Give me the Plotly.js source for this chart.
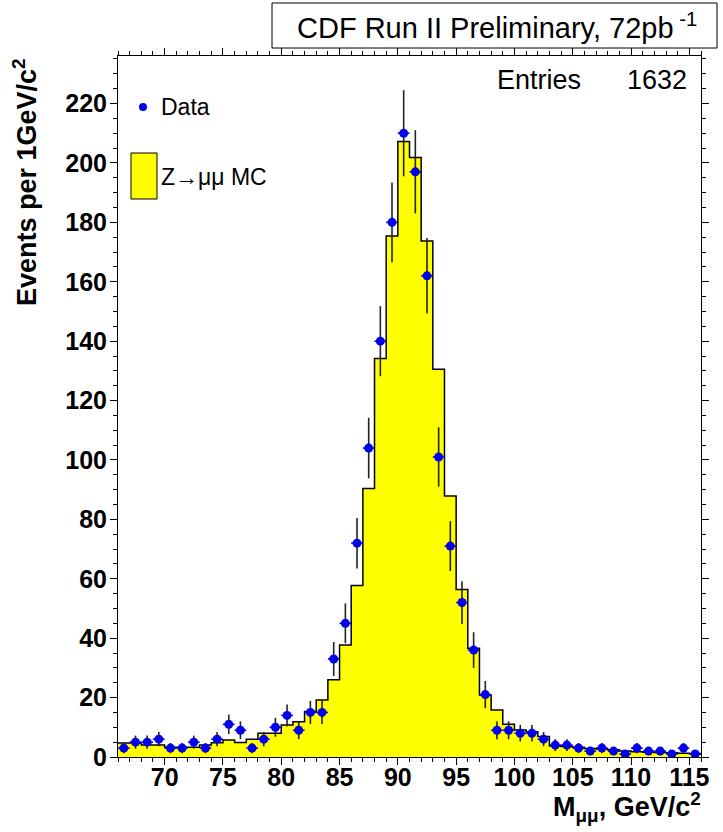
<!DOCTYPE html>
<html>
<head>
<meta charset="utf-8">
<script src="https://cdn.plot.ly/plotly-3.0.1.min.js"></script>
<style>html,body{margin:0;padding:0;background:#fff;}#chart{width:723px;height:832px;}</style>
</head>
<body>
<div id="chart"></div>
<script>
// Bin lower edges (1 GeV bins from 66 to 116)
const binLow = [66,67,68,69,70,71,72,73,74,75,76,77,78,79,80,81,82,83,84,85,86,87,88,89,90,91,92,93,94,95,96,97,98,99,100,101,102,103,104,105,106,107,108,109,110,111,112,113,114,115];
const binUpperLast = 116;

// Z->mumu MC histogram contents
const mcValues = [4.7,4.7,4.0,4.0,3.3,3.3,3.3,4.0,4.8,5.7,4.9,6.0,8.0,8.0,10.8,11.9,15.3,19.2,26.0,37.7,57.7,90.4,134.2,175.4,207.2,201.8,173.7,130.5,87.9,56.4,36.6,20.9,15.8,11.0,9.1,8.5,6.9,3.7,3.5,3.3,2.9,2.7,2.4,2.0,1.8,1.6,1.5,1.4,1.3,1.2];

// Data counts
const dataValues = [3,5,5,6,3,3,5,3,6,11,9,3,6,10,14,9,15,15,33,45,72,104,140,180,210,197,162,101,71,52,36,21,9,9,8,8,6,4,4,3,2,3,2,1,3,2,2,1,3,1];
// Data vertical error bars
const dataErrors = [1.7,2.2,2.2,2.4,1.7,1.7,2.2,1.7,2.4,3.3,3.0,1.7,2.4,3.2,3.7,3.0,3.9,3.9,5.7,6.7,8.5,10.2,11.8,13.4,14.5,14.0,12.7,10.0,8.4,7.2,6.0,4.6,3.0,3.0,2.8,2.8,2.4,2.0,2.0,1.7,1.4,1.7,1.4,1.0,1.7,1.4,1.4,1.0,1.7,1.0];

const xTickVals = [70,75,80,85,90,95,100,105,110,115];
const xTickText = ['70','75','80','85','90','95','100','105','110','115'];
const yTickVals = [0,20,40,60,80,100,120,140,160,180,200,220];
const yTickText = ['0','20','40','60','80','100','120','140','160','180','200','220'];

const titleText = 'CDF Run II Preliminary, 72pb<sup> -1</sup>';
const entriesLabel = 'Entries';
const entriesValue = '1632';
const legendData = 'Data';
const legendMC = 'Z\u2192\u03bc\u03bc MC';
const yTitle = 'Events per 1GeV/c<sup>2</sup>';
const xTitle = 'M<sub>\u03bc\u03bc</sub>, GeV/c<sup>2</sup>';

// Step histogram: edges + repeat last content to close the final bin
const mcX = binLow.concat([binUpperLast]);
const mcY = mcValues.concat([mcValues[mcValues.length-1]]);
const dataX = binLow.map(v => v + 0.5);

const FONT = 'Liberation Sans, Arial, Helvetica, sans-serif';
const BLUE = 'rgb(0,0,235)';

const traces = [
  {
    type: 'scatter', mode: 'lines', x: mcX, y: mcY,
    line: {shape: 'hv', color: '#000', width: 1.5},
    fill: 'tozeroy', fillcolor: '#ffff00',
    showlegend: false, hoverinfo: 'skip'
  },
  {
    type: 'scatter', mode: 'markers', x: dataX, y: dataValues,
    marker: {symbol: 'circle', size: 9, color: BLUE},
    error_y: {type: 'data', array: dataErrors, visible: true, color: '#222', thickness: 1.6, width: 0},
    error_x: {type: 'constant', value: 0.5, visible: true, color: BLUE, thickness: 1.6, width: 0},
    showlegend: false
  }
];

const W = 583, H = 701, L = 118, T = 56;
const px = v => (v - L) / W;
const py = v => (T + H - v) / H;

const layout = {
  width: 723, height: 832,
  margin: {l: L, r: 723 - L - W, t: T, b: 832 - T - H, pad: 0},
  paper_bgcolor: '#fff', plot_bgcolor: '#fff',
  showlegend: false,
  font: {family: FONT, color: '#000'},
  xaxis: {
    range: [66, 116], tickvals: xTickVals, ticktext: xTickText,
    ticks: 'outside', ticklen: 7, tickwidth: 1, tickcolor: '#000',
    minor: {dtick: 1, ticks: 'outside', ticklen: 4, tickwidth: 1, tickcolor: '#000'},
    showline: true, linecolor: '#000', linewidth: 1, mirror: 'ticks',
    showgrid: false, zeroline: false, ticklabelstandoff: -9,
    tickfont: {family: FONT, size: 25, weight: 'bold', color: '#000'}
  },
  yaxis: {
    range: [0, 236], tickvals: yTickVals, ticktext: yTickText,
    ticks: 'outside', ticklen: 7, tickwidth: 1, tickcolor: '#000',
    minor: {dtick: 5, ticks: 'outside', ticklen: 4, tickwidth: 1, tickcolor: '#000'},
    showline: true, linecolor: '#000', linewidth: 1, mirror: 'ticks',
    showgrid: false, zeroline: false, ticklabelstandoff: -2,
    tickfont: {family: FONT, size: 25, weight: 'bold', color: '#000'}
  },
  shapes: [
    {type: 'rect', xref: 'paper', yref: 'paper', x0: px(272), x1: px(717), y0: py(48), y1: py(3),
     fillcolor: '#fff', line: {color: '#000', width: 1}, layer: 'above'},
    {type: 'circle', xref: 'paper', yref: 'paper', x0: px(139), x1: px(147), y0: py(111), y1: py(103),
     fillcolor: BLUE, line: {color: BLUE, width: 0}},
    {type: 'rect', xref: 'paper', yref: 'paper', x0: px(131), x1: px(157), y0: py(199), y1: py(153),
     fillcolor: '#ffff00', line: {color: '#000', width: 1}}
  ],
  annotations: [
    {text: titleText, xref: 'paper', yref: 'paper', x: px(497), y: py(25.5), xanchor: 'center', yanchor: 'middle',
     showarrow: false, font: {family: FONT, size: 29, color: '#000'}},
    {text: entriesLabel, xref: 'paper', yref: 'paper', x: px(495), y: py(80), xanchor: 'left', yanchor: 'middle',
     showarrow: false, font: {family: FONT, size: 27, color: '#000'}},
    {text: entriesValue, xref: 'paper', yref: 'paper', x: px(689), y: py(80), xanchor: 'right', yanchor: 'middle',
     showarrow: false, font: {family: FONT, size: 27, color: '#000'}},
    {text: legendData, xref: 'paper', yref: 'paper', x: px(159), y: py(107), xanchor: 'left', yanchor: 'middle',
     showarrow: false, font: {family: FONT, size: 23, color: '#000'}},
    {text: legendMC, xref: 'paper', yref: 'paper', x: px(159), y: py(177), xanchor: 'left', yanchor: 'middle',
     showarrow: false, font: {family: FONT, size: 23, color: '#000'}},
    {text: yTitle, xref: 'paper', yref: 'paper', x: px(25), y: py(56), xanchor: 'center', yanchor: 'top',
     textangle: -90, showarrow: false, font: {family: FONT, size: 27, weight: 'bold', color: '#000'}},
    {text: xTitle, xref: 'paper', yref: 'paper', x: px(703), y: py(786), xanchor: 'right', yanchor: 'top',
     showarrow: false, font: {family: FONT, size: 27, weight: 'bold', color: '#000'}}
  ]
};

Plotly.newPlot('chart', traces, layout, {displayModeBar: false, staticPlot: true});
</script>
</body>
</html>
